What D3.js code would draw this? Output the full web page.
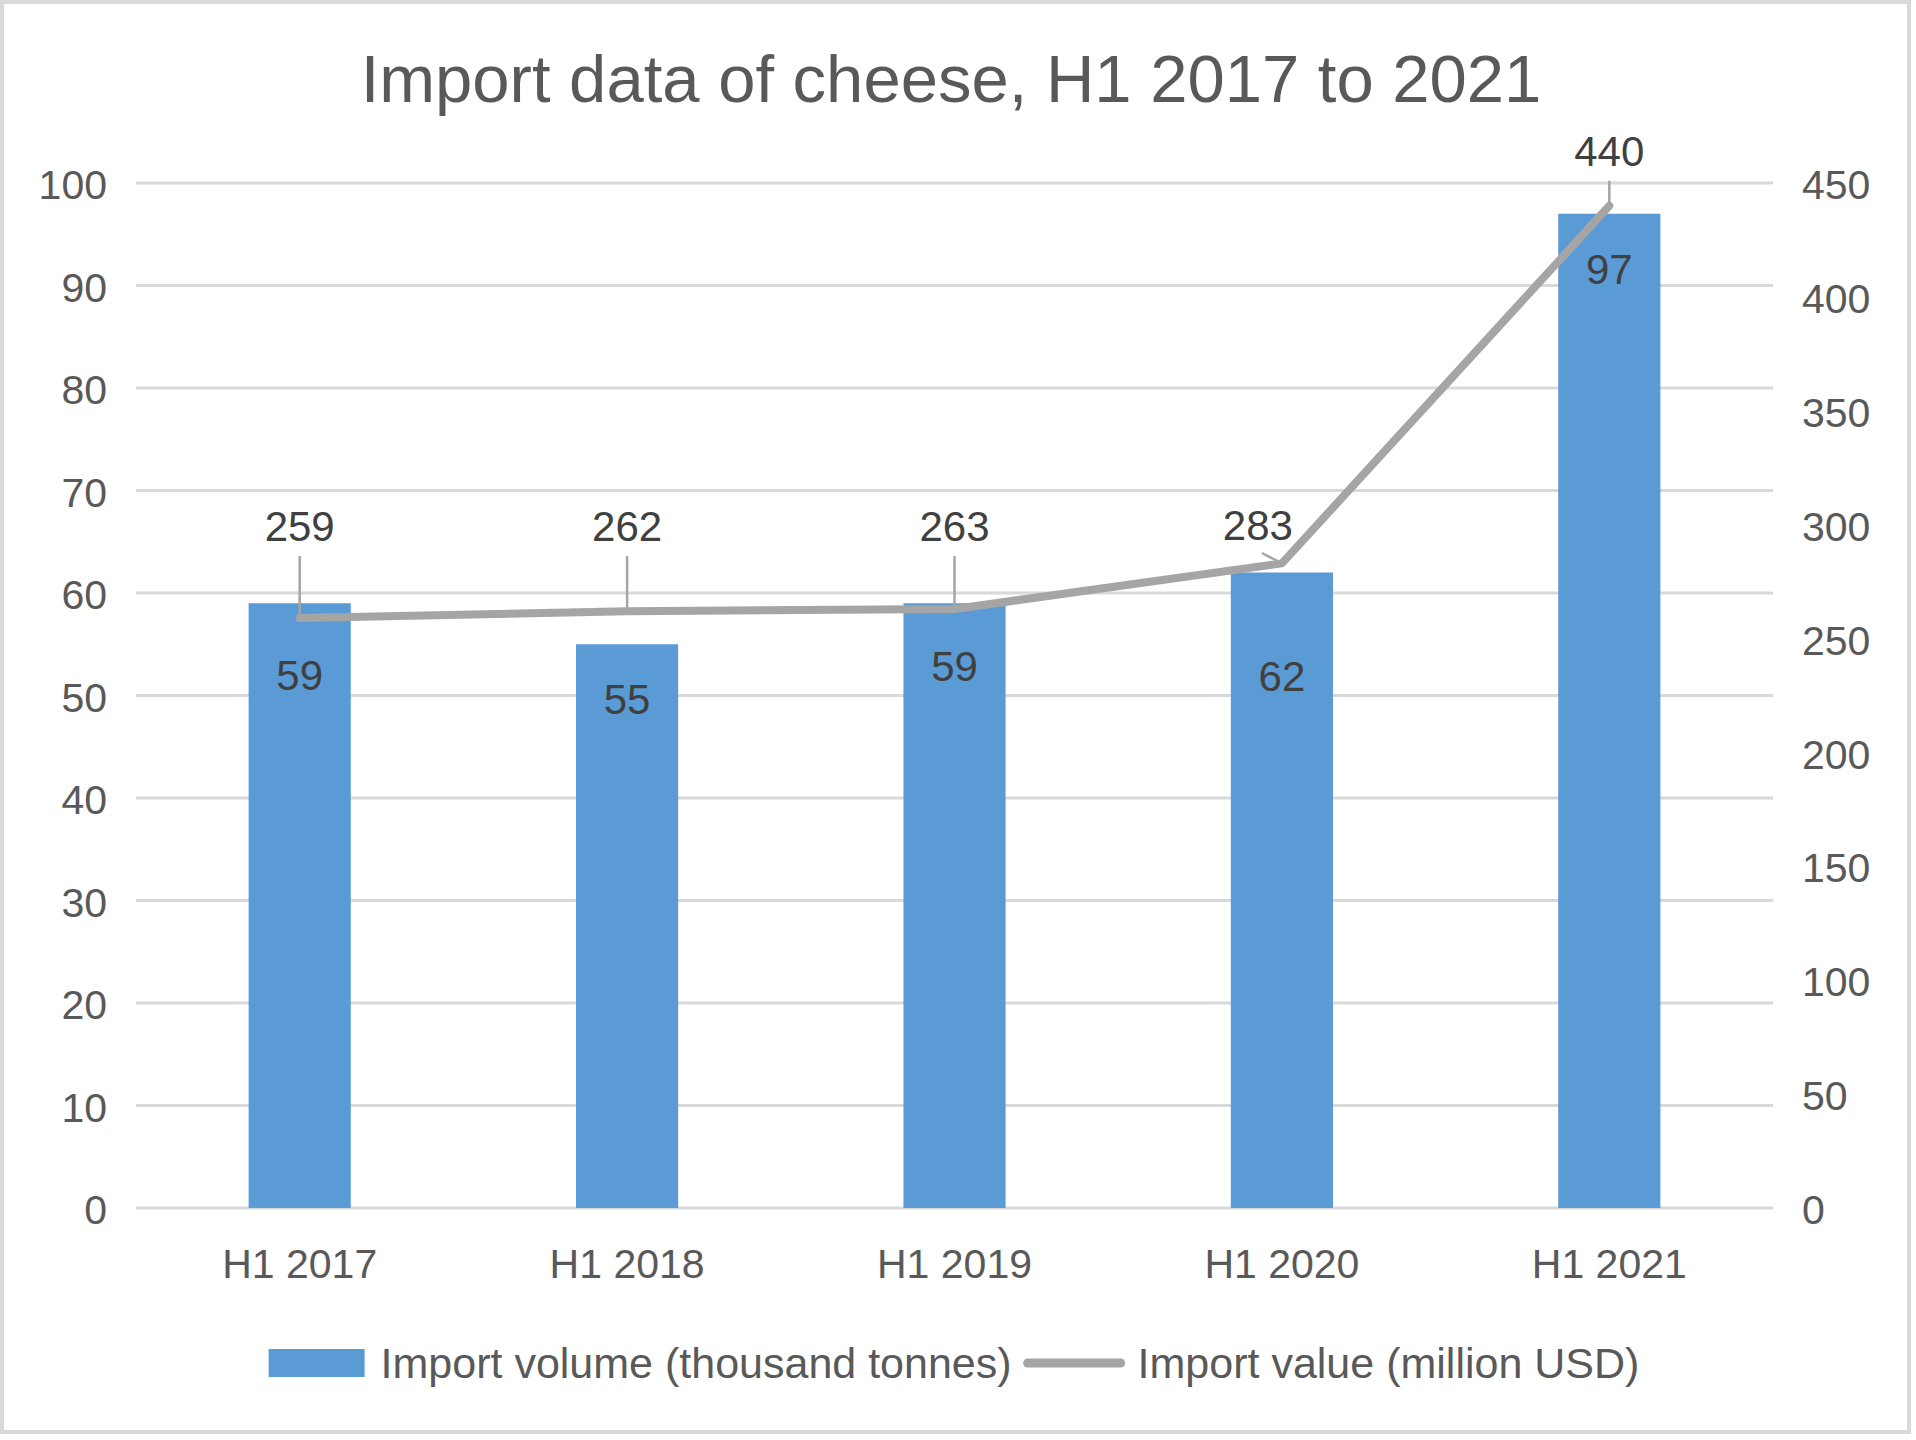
<!DOCTYPE html>
<html lang="en">
  <head>
    <meta charset="UTF-8" />
    <title>Import data of cheese</title>
    <script src="https://cdn.jsdelivr.net/npm/d3@7"></script>
    <style>
      body { margin: 0; background: #fff; }
      svg text { font-family: "Liberation Sans", Arial, Helvetica, sans-serif; }
    </style>
  </head>
  <body>
    <div class="chart"></div>
    <script>
    // data
    var periods = ["H1 2017", "H1 2018", "H1 2019", "H1 2020", "H1 2021"];
    var importVolume = [59, 55, 59, 62, 97];        // thousand tonnes
    var importValue = [259, 262, 263, 283, 440];    // million USD
    var leftTicks = [0, 10, 20, 30, 40, 50, 60, 70, 80, 90, 100];
    var rightTicks = [0, 50, 100, 150, 200, 250, 300, 350, 400, 450];
    var seriesNames = ["Import volume (thousand tonnes)", "Import value (million USD)"];

    var w = 1916, h = 1440;
    // note: "top" is reserved on window, so plot edges get their own names
    var plotL = 136, plotR = 1773, plotT = 183, plotB = 1208;
    var barColor = "#5b9bd5", lineColor = "#a5a5a5";
    var axisColor = "#595959", labelColor = "#404040", gridColor = "#d9d9d9";

    var svg = d3.select(".chart").append("svg")
                .attr("width", w)
                .attr("height", h);

    // outer frame
    svg.append("rect")
       .attr("x", 2).attr("y", 2)
       .attr("width", 1907).attr("height", 1430)
       .attr("fill", "#fff")
       .attr("stroke", gridColor)
       .attr("stroke-width", 4);

    var x = d3.scaleBand().domain(periods).range([plotL, plotR]).padding(0);
    var yL = d3.scaleLinear().domain([0, 100]).range([plotB, plotT]);
    var yR = d3.scaleLinear().domain([0, 450]).range([plotB, plotT]);
    var cx = function(d) { return x(d) + x.bandwidth() / 2; };
    var barW = x.bandwidth() * 0.312;

    // title
    svg.append("text")
       .attr("x", 951).attr("y", 102)
       .attr("text-anchor", "middle")
       .attr("fill", axisColor)
       .style("font-size", "67px")
       .text("Import data of cheese, H1 2017 to 2021");

    // gridlines
    svg.append("g").selectAll("line")
       .data(leftTicks).enter().append("line")
       .attr("x1", plotL).attr("x2", plotR)
       .attr("y1", function(d) { return yL(d); })
       .attr("y2", function(d) { return yL(d); })
       .attr("stroke", gridColor)
       .attr("stroke-width", 3);

    // left axis
    var axisL = svg.append("g")
       .attr("transform", "translate(" + 107 + ",0)")
       .call(d3.axisLeft(yL).tickValues(leftTicks).tickSize(0).tickPadding(0));
    axisL.select(".domain").remove();
    axisL.selectAll("text")
         .attr("fill", axisColor)
         .attr("dy", "0.38em")
         .style("font-size", "41px")
         .style("font-family", "Liberation Sans, Arial, sans-serif");

    // right axis
    var axisR = svg.append("g")
       .attr("transform", "translate(" + 1802 + ",0)")
       .call(d3.axisRight(yR).tickValues(rightTicks).tickSize(0).tickPadding(0));
    axisR.select(".domain").remove();
    axisR.selectAll("text")
         .attr("fill", axisColor)
         .attr("dy", "0.38em")
         .style("font-size", "41px")
         .style("font-family", "Liberation Sans, Arial, sans-serif");

    // category axis
    var axisX = svg.append("g")
       .attr("transform", "translate(0," + plotB + ")")
       .call(d3.axisBottom(x).tickSize(0).tickPadding(0));
    axisX.select(".domain").remove();
    axisX.selectAll("text")
         .attr("fill", axisColor)
         .attr("y", 70)
         .attr("dy", 0)
         .style("font-size", "41px")
         .style("font-family", "Liberation Sans, Arial, sans-serif");

    // bars
    svg.append("g").selectAll("rect")
       .data(importVolume).enter().append("rect")
       .attr("x", function(d, i) { return cx(periods[i]) - barW / 2; })
       .attr("y", function(d) { return yL(d); })
       .attr("width", barW)
       .attr("height", function(d) { return yL(0) - yL(d); })
       .attr("fill", barColor);

    // line
    var line = d3.line()
                 .x(function(d, i) { return cx(periods[i]); })
                 .y(function(d) { return yR(d); });

    svg.append("path")
       .datum(importValue)
       .attr("d", line)
       .attr("fill", "none")
       .attr("stroke", lineColor)
       .attr("stroke-width", 8)
       .attr("stroke-linejoin", "round")
       .attr("stroke-linecap", "round");

    // true when the line climbs steeply after point i
    var steep = function(i) {
      return i < importValue.length - 1 && importValue[i + 1] - importValue[i] > 100;
    };

    // bar labels, pushed below the line where they would touch it
    svg.append("g").selectAll("text")
       .data(importVolume).enter().append("text")
       .attr("x", function(d, i) { return cx(periods[i]); })
       .attr("y", function(d, i) {
         var capTop = Math.max(yL(d) + 40, yR(importValue[i]) + 42);
         if (steep(i)) capTop = yR(importValue[i]) + 98;
         return capTop + 30;
       })
       .attr("text-anchor", "middle")
       .attr("fill", labelColor)
       .style("font-size", "42px")
       .text(function(d) { return d; });

    // line labels with leader lines
    var labelRow = 541;
    var baseY = function(d, i) {
      if (steep(i)) return labelRow - 1;
      return Math.min(yR(d) - 40, labelRow);
    };
    var labelX = function(d, i) {
      return steep(i) ? cx(periods[i]) - 24 : cx(periods[i]);
    };

    svg.append("g").selectAll("line")
       .data(importValue).enter().append("line")
       .attr("x1", function(d, i) { return steep(i) ? labelX(d, i) + 4 : labelX(d, i); })
       .attr("x2", function(d, i) { return cx(periods[i]); })
       .attr("y1", function(d, i) { return baseY(d, i) + (steep(i) ? 13 : 15); })
       .attr("y2", function(d) { return yR(d); })
       .attr("stroke", lineColor)
       .attr("stroke-width", 2.5);

    svg.append("g").selectAll("text")
       .data(importValue).enter().append("text")
       .attr("x", labelX)
       .attr("y", baseY)
       .attr("text-anchor", "middle")
       .attr("fill", labelColor)
       .style("font-size", "42px")
       .text(function(d) { return d; });

    // legend
    var legend = svg.append("g");
    var legY = 1363;
    var t1 = legend.append("text")
       .attr("y", legY + 15)
       .attr("fill", axisColor)
       .style("font-size", "43px")
       .text(seriesNames[0]);
    var t2 = legend.append("text")
       .attr("y", legY + 15)
       .attr("fill", axisColor)
       .style("font-size", "43px")
       .text(seriesNames[1]);

    var w1 = t1.node().getComputedTextLength();
    var w2 = t2.node().getComputedTextLength();
    var total = 96 + 16 + w1 + 12 + 101 + 13 + w2;
    var lx = 954 - total / 2;

    legend.append("rect")
          .attr("x", lx).attr("y", legY - 14)
          .attr("width", 96).attr("height", 28)
          .attr("fill", barColor);
    t1.attr("x", lx + 112);
    var lx2 = lx + 112 + w1 + 12;
    legend.append("line")
          .attr("x1", lx2 + 4).attr("x2", lx2 + 97)
          .attr("y1", legY).attr("y2", legY)
          .attr("stroke", lineColor)
          .attr("stroke-width", 9)
          .attr("stroke-linecap", "round");
    t2.attr("x", lx2 + 114);
    </script>
  </body>
</html>
